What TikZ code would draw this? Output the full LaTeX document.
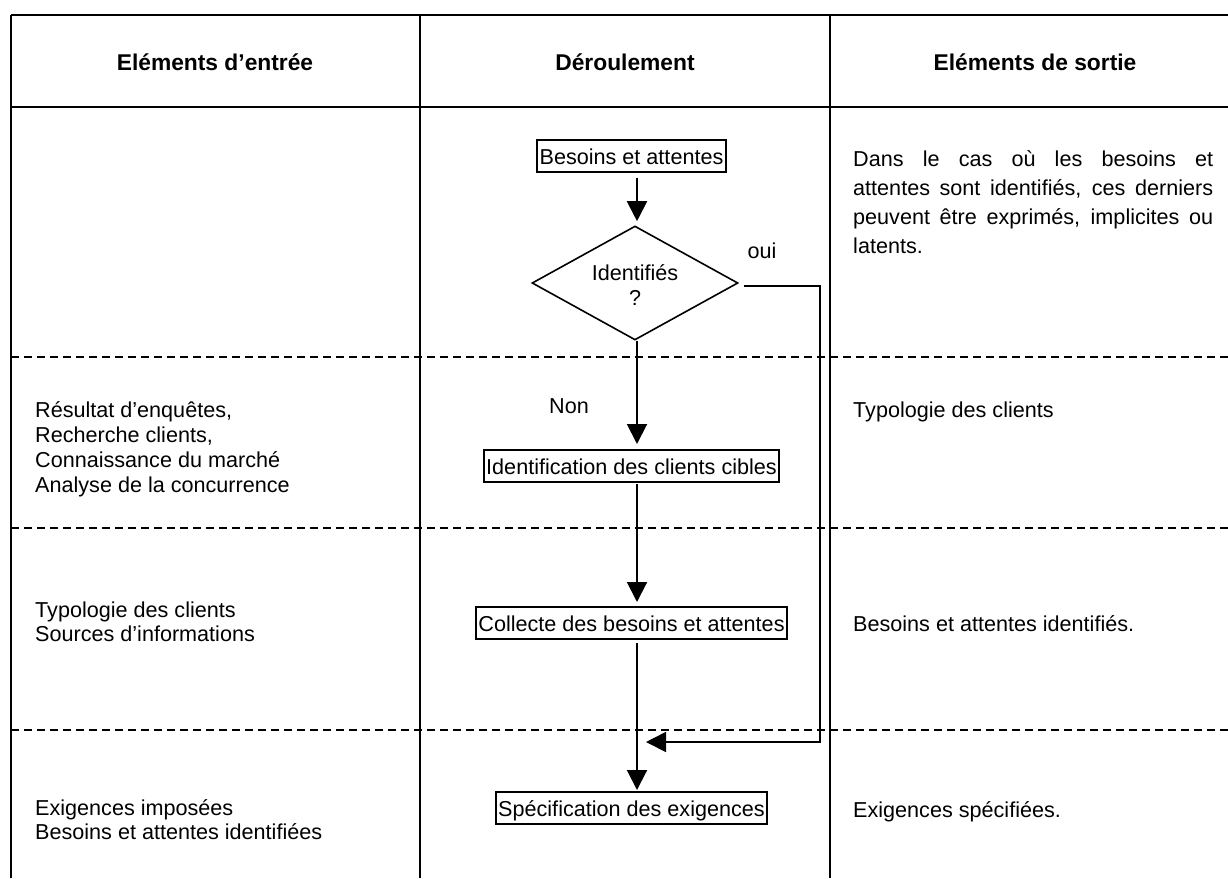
\documentclass[tikz,border=0pt]{standalone}
\usepackage{fontspec}
\setmainfont{Liberation Sans}
\usetikzlibrary{arrows.meta,shapes.geometric,calc}
\begin{document}
\begin{tikzpicture}[x=1pt,y=-1pt,
  every node/.style={font=\fontsize{21.6}{24.5}\selectfont, inner sep=0pt},
  tline/.style={line width=2.5pt},
  dline/.style={line width=1.5pt, dash pattern=on 8pt off 5pt},
  fbox/.style={draw, line width=2pt, inner xsep=2.5pt, inner ysep=3pt, text height=21pt, text depth=5pt},
  flow/.style={line width=2pt, -{Triangle[length=20pt,width=20pt]}},
  txt/.style={anchor=base west},
  hdr/.style={anchor=base, font=\fontsize{22.8}{26}\selectfont\bfseries}
]
\useasboundingbox (0,0) rectangle (1228,878);
% table frame
\draw[tline] (11,15) -- (1228,15);
\draw[tline] (11,107) -- (1228,107);
\draw[tline] (11,15) -- (11,878);
\draw[tline] (420,15) -- (420,878);
\draw[tline] (830,15) -- (830,878);
\draw[dline] (11,357) -- (1228,357);
\draw[dline] (11,528) -- (1228,528);
\draw[dline] (11,730) -- (1228,730);
% headers
\node[hdr] (h1) at (215,70) {Eléments d’entrée};
\node[hdr] (h2) at (625,70) {Déroulement};
\node[hdr] (h3) at (1035,70) {Eléments de sortie};
% flow
\coordinate (ax) at (637,0);
\node[fbox] (b1) at (631.5,156) {Besoins et attentes};
\node[draw, diamond, line width=1.6pt, shape aspect=1.8, minimum width=206pt, minimum height=114pt, align=center] (d) at (635,283) {\rule{0pt}{20pt}Identifiés\\?};
\node[fbox] (b2) at (631.5,466) {Identification des clients cibles};
\node[fbox] (b3) at (631.5,623) {Collecte des besoins et attentes};
\node[fbox] (b4) at (631.5,808) {Spécification des exigences};
\node[anchor=base] (oui) at (762,258) {oui};
\node[anchor=base] (non) at (569,413) {Non};
\draw[flow, shorten <=5pt, shorten >=4pt] (b1.south -| ax) -- (d.north -| ax);
\draw[flow, shorten >=5pt] (d.south -| ax) -- (b2.north -| ax);
\draw[flow, shorten <=1pt, shorten >=4pt] (b2.south -| ax) -- (b3.north -| ax);
\draw[flow, shorten <=3pt, shorten >=1pt] (b3.south -| ax) -- (b4.north -| ax);
\coordinate (c1) at (820,286);
\coordinate (c2) at (820,742);
\coordinate (c3) at (646,742);
\draw[line width=1.6pt, -{Triangle[length=20pt,width=20pt]}] ($(d.east)+(5,3)$) -- (c1) -- (c2) -- (c3);
% left column
\node[txt] (l1) at (35,417) {Résultat d’enquêtes,};
\node[txt] (l2) at (35,442) {Recherche clients,};
\node[txt] (l3) at (35,467) {Connaissance du marché};
\node[txt] (l4) at (35,492) {Analyse de la concurrence};
\node[txt] (l5) at (35,617) {Typologie des clients};
\node[txt] (l6) at (35,641) {Sources d’informations};
\node[txt] (l7) at (35,815) {Exigences imposées};
\node[txt] (l8) at (35,839) {Besoins et attentes identifiées};
% right column
\node[txt] (r1) at (853,166) {\makebox[360pt][s]{Dans le cas où les besoins et}};
\node[txt] (r2) at (853,195) {\makebox[360pt][s]{attentes sont identifiés, ces derniers}};
\node[txt] (r3) at (853,224) {\makebox[360pt][s]{peuvent être exprimés, implicites ou}};
\node[txt] (r4) at (853,253) {latents.};
\node[txt] (r5) at (853,417) {Typologie des clients};
\node[txt] (r6) at (853,631) {Besoins et attentes identifiés.};
\node[txt] (r7) at (853,817) {Exigences spécifiées.};
\end{tikzpicture}
\end{document}
